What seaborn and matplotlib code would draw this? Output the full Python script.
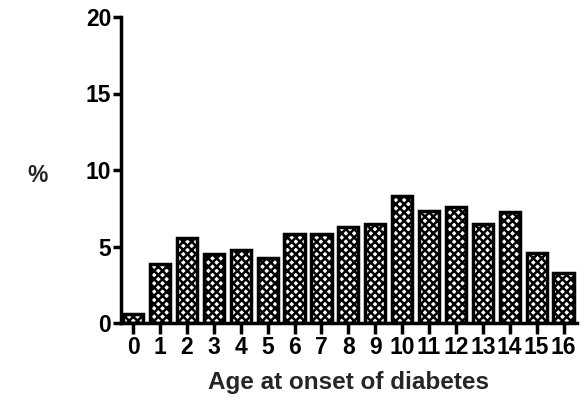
import matplotlib
matplotlib.use("Agg")
import matplotlib.pyplot as plt
import seaborn as sns
import pandas as pd

ages = [str(i) for i in range(17)]
percent = [0.6, 3.85, 5.55, 4.5, 4.75, 4.25, 5.8, 5.8, 6.3, 6.45,
           8.3, 7.3, 7.6, 6.45, 7.25, 4.6, 3.25]

df = pd.DataFrame({"age": ages, "pct": percent})

sns.set_theme(style="ticks")
plt.rcParams['font.family'] = ['Liberation Sans', 'DejaVu Sans']
plt.rcParams['font.weight'] = 'bold'
plt.rcParams['hatch.linewidth'] = 1.8

fig = plt.figure(figsize=(5.85, 4.01), dpi=100)
ax = fig.add_axes([121/585, 1 - 323/401, (577-121)/585, (323-17)/401])

sns.barplot(x="age", y="pct", data=df, ax=ax, color="white",
            edgecolor="black", linewidth=2.5, width=0.75, hatch="xxxx")

ax.set_ylim(0, 20)
ax.set_xlim(-0.45, 16.5)
ax.set_yticks([0, 5, 10, 15, 20])

for s in ["top", "right"]:
    ax.spines[s].set_visible(False)
for s in ["left", "bottom"]:
    ax.spines[s].set_linewidth(2.5)
    ax.spines[s].set_color("black")

ax.tick_params(axis="both", width=2.5, length=6, colors="black",
               labelsize=16.5, pad=1)
ax.tick_params(axis="x", length=8)
for lab in ax.get_xticklabels() + ax.get_yticklabels():
    lab.set_fontweight("bold")

ax.set_xlabel("Age at onset of diabetes", fontsize=17.5, fontweight="bold",
              labelpad=9)
ax.set_ylabel("")
fig.text(38/585, 1 - 175/401, "%", fontsize=16.5, fontweight="bold",
         ha="center", va="center")

fig.savefig("out.png", dpi=100)
